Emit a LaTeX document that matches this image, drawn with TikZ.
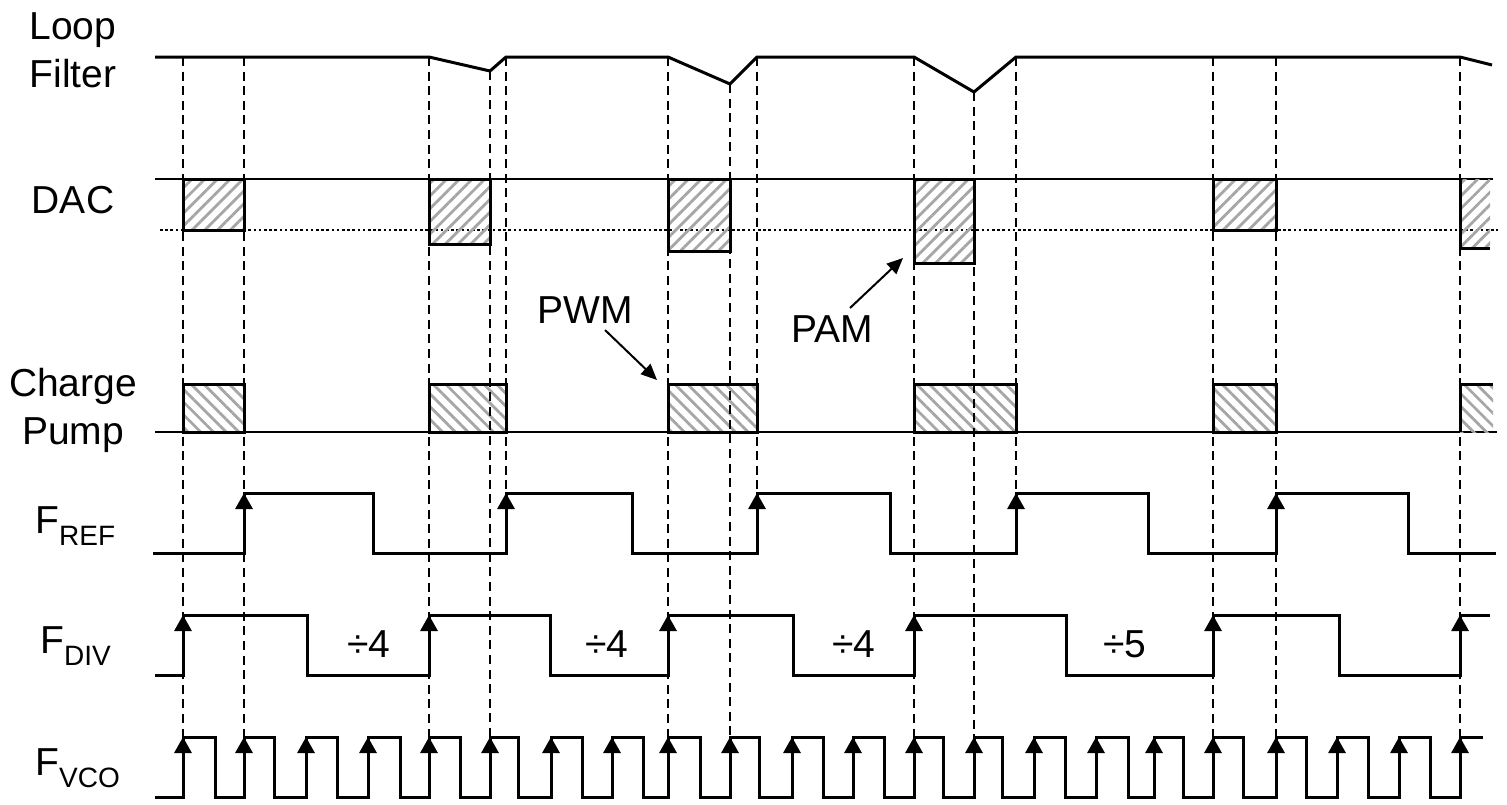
\documentclass[tikz,border=0pt]{standalone}
\usepackage{fontspec}
\setmainfont{Liberation Sans}
\usetikzlibrary{arrows.meta}
\usetikzlibrary{patterns.meta}

\newcommand{\sublbl}[2]{#1\raisebox{-6pt}{\fontsize{14}{14}\selectfont #2}}

\tikzset{
  wave/.style={line width=1.5pt},
  thin line/.style={line width=1pt},
  guide/.style={line width=1pt, dash pattern=on 4.5pt off 2.8pt},
  rise/.style={line width=1.5pt, -{Triangle[width=8.5pt,length=8pt]}},
  callout/.style={line width=1pt, -{Triangle[width=7pt,length=8pt]}},
  dachatch/.style={pattern={Lines[angle=45,distance=4.5pt,line width=1.4pt]}, pattern color=gray!70},
  cphatch/.style={pattern={Lines[angle=-45,distance=4.5pt,line width=1.4pt]}, pattern color=gray!70},
  lbl/.style={font=\fontsize{19.5}{24}\selectfont, inner sep=0pt},
}

\begin{document}
\begin{tikzpicture}[x=0.5pt,y=-0.5pt]
    \useasboundingbox (0,0) rectangle (1507,804);

    % row labels
    \node[lbl, align=center, anchor=north] (loopfilter) at (73,12) {Loop\\Filter};
    \node[lbl, anchor=base] (dac) at (73,213) {DAC};
    \node[lbl, align=center, anchor=north] (chargepump) at (73,368) {Charge\\Pump};
    \node[lbl, anchor=base west] (fref) at (35,533) {\sublbl{F}{REF}};
    \node[lbl, anchor=base west] (fdiv) at (40,653) {\sublbl{F}{DIV}};
    \node[lbl, anchor=base west] (fvco) at (35,775) {\sublbl{F}{VCO}};

    % loop filter voltage
    \coordinate (LF0) at (155,57);
    \coordinate (LF1) at (429,57);
    \coordinate (LF2) at (490,71);
    \coordinate (LF3) at (506,57);
    \coordinate (LF4) at (668,57);
    \coordinate (LF5) at (730,84);
    \coordinate (LF6) at (757,57);
    \coordinate (LF7) at (914,57);
    \coordinate (LF8) at (974,92);
    \coordinate (LF9) at (1016,57);
    \coordinate (LF10) at (1460,57);
    \coordinate (LF11) at (1492,65);
    \draw[wave] (LF0)--(LF1)--(LF2)--(LF3)--(LF4)--(LF5)--(LF6)--(LF7)--(LF8)--(LF9)--(LF10)--(LF11);

    % DAC
    \draw[thin line] (155,179) -- (1493,179);
    \draw[line width=1.3pt, dash pattern=on 1.3pt off 1.3pt] (160,230) -- (1498,230);
    \draw[wave, dachatch] (183,179) rectangle (244,230);
    \draw[wave, dachatch] (429,179) rectangle (490,244);
    \draw[wave, dachatch] (668,179) rectangle (730,251);
    \draw[wave, dachatch] (914,179) rectangle (974,263);
    \draw[wave, dachatch] (1213,179) rectangle (1276,230);
    \fill[dachatch] (1460,179) rectangle (1490,248);
    \draw[wave] (1460,179) -- (1460,248) -- (1490,248);

    % charge pump
    \draw[thin line] (155,432) -- (1497,432);
    \draw[wave, cphatch] (183,384) rectangle (244,432);
    \draw[wave, cphatch] (429,384) rectangle (506,432);
    \draw[wave, cphatch] (668,384) rectangle (757,432);
    \draw[wave, cphatch] (914,384) rectangle (1016,432);
    \draw[wave, cphatch] (1213,384) rectangle (1276,432);
    \fill[cphatch] (1460,384) rectangle (1493,432);
    \draw[wave] (1460,432) -- (1460,384) -- (1493,384);

    % callouts
    \node[lbl, anchor=base] (pwm) at (585,323) {PWM};
    \node[lbl, anchor=base] (pam) at (832,342) {PAM};
    \coordinate (pwmtip) at (657,380);
    \coordinate (pamtip) at (903,258);
    \draw[callout] (605,330) -- (pwmtip);
    \draw[callout] (850,308) -- (pamtip);

    % guides
    \foreach \x/\top in {183/57,244/57,429/57,490/71,668/57,730/84,914/57,974/92,1213/57,1276/57,1460/57}
        \draw[guide] (\x,\top) -- (\x,737);
    \foreach \x in {506,757,1016}
        \draw[guide] (\x,57) -- (\x,493);

    % F_REF
    \draw[wave] (153,553) -- (244,553) -- (244,493) -- (373,493) -- (373,553)
        -- (506,553) -- (506,493) -- (632,493) -- (632,553)
        -- (757,553) -- (757,493) -- (890,493) -- (890,553)
        -- (1016,553) -- (1016,493) -- (1148,493) -- (1148,553)
        -- (1276,553) -- (1276,493) -- (1408,493) -- (1408,553) -- (1496,553);
    \foreach \x in {244,506,757,1016,1276}
        \draw[rise] (\x,553) -- (\x,493);

    % F_DIV
    \draw[wave] (155,675) -- (183,675) -- (183,615) -- (307,615) -- (307,675)
        -- (429,675) -- (429,615) -- (550,615) -- (550,675)
        -- (668,675) -- (668,615) -- (793,615) -- (793,675)
        -- (914,675) -- (914,615) -- (1066,615) -- (1066,675)
        -- (1213,675) -- (1213,615) -- (1339,615) -- (1339,675)
        -- (1460,675) -- (1460,615) -- (1490,615);
    \foreach \x in {183,429,668,914,1213,1460}
        \draw[rise] (\x,675) -- (\x,615);
    \node[lbl, anchor=base] (div1) at (369,657) {÷4};
    \node[lbl, anchor=base] (div2) at (607,657) {÷4};
    \node[lbl, anchor=base] (div3) at (854,657) {÷4};
    \node[lbl, anchor=base] (div4) at (1125,657) {÷5};

    % F_VCO
    \draw[wave] (155,797) -- (183,797) -- (183,737) -- (215,737) -- (215,797)
        -- (244,797) -- (244,737) -- (274,737) -- (274,797)
        -- (306,797) -- (306,737) -- (337,737) -- (337,797)
        -- (368,797) -- (368,737) -- (400,737) -- (400,797)
        -- (429,797) -- (429,737) -- (460,737) -- (460,797)
        -- (490,797) -- (490,737) -- (518,737) -- (518,797)
        -- (551,797) -- (551,737) -- (582,737) -- (582,797)
        -- (612,797) -- (612,737) -- (643,737) -- (643,797)
        -- (668,797) -- (668,737) -- (700,737) -- (700,797)
        -- (730,797) -- (730,737) -- (759,737) -- (759,797)
        -- (792,797) -- (792,737) -- (823,737) -- (823,797)
        -- (853,797) -- (853,737) -- (884,737) -- (884,797)
        -- (914,797) -- (914,737) -- (943,737) -- (943,797)
        -- (974,797) -- (974,737) -- (1002,737) -- (1002,797)
        -- (1034,797) -- (1034,737) -- (1065,737) -- (1065,797)
        -- (1096,797) -- (1096,737) -- (1128,737) -- (1128,797)
        -- (1154,797) -- (1154,737) -- (1183,737) -- (1183,797)
        -- (1213,797) -- (1213,737) -- (1243,737) -- (1243,797)
        -- (1276,797) -- (1276,737) -- (1306,737) -- (1306,797)
        -- (1337,797) -- (1337,737) -- (1368,737) -- (1368,797)
        -- (1399,797) -- (1399,737) -- (1430,737) -- (1430,797)
        -- (1460,797) -- (1460,737) -- (1483,737);
    \foreach \x in {183,244,306,368,429,490,551,612,668,730,792,853,914,974,1034,1096,1154,1213,1276,1337,1399,1460}
        \draw[rise] (\x,797) -- (\x,737);
\end{tikzpicture}
\end{document}
